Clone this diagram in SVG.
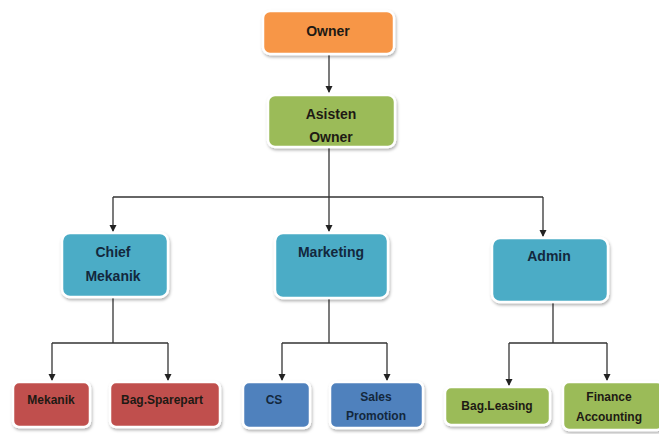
<svg xmlns="http://www.w3.org/2000/svg" width="659" height="434" viewBox="0 0 659 434">
<defs>
<filter id="sh" x="-10%" y="-10%" width="130%" height="140%">
<feDropShadow dx="1" dy="2" stdDeviation="1.5" flood-color="#000" flood-opacity="0.3"/>
</filter>
<marker id="ar" markerWidth="8" markerHeight="8" refX="6" refY="4" orient="auto" markerUnits="userSpaceOnUse">
<path d="M0,0.5 L7,4 L0,7.5 Z" fill="#222"/>
</marker>
</defs>
<style>
.box{stroke:#fff;stroke-width:2.5;filter:url(#sh)}
.or{fill:#f79646}
.gr{fill:#9bbb59}
.cy{fill:#4bacc6}
.rd{fill:#c0504d}
.bl{fill:#4f81bd}
text{font-family:"Liberation Sans",Arial,sans-serif;font-weight:bold;font-size:14px;text-anchor:middle;fill:#1e1a14}
.nv{fill:#13283d}
.sm{font-size:12px}
.con line,.con path{stroke:#333;stroke-width:1.3;fill:none}
</style>
<rect width="659" height="434" fill="#fff"/>
<g class="con">
<line x1="329" y1="55" x2="329" y2="92" marker-end="url(#ar)"/>
<line x1="329" y1="148" x2="329" y2="197"/>
<line x1="113" y1="197" x2="543" y2="197"/>
<line x1="113" y1="197" x2="113" y2="231" marker-end="url(#ar)"/>
<line x1="329" y1="197" x2="329" y2="231" marker-end="url(#ar)"/>
<line x1="543" y1="197" x2="543" y2="236" marker-end="url(#ar)"/>
<line x1="113" y1="298" x2="113" y2="343"/>
<line x1="52" y1="343" x2="168" y2="343"/>
<line x1="329" y1="299" x2="329" y2="343"/>
<line x1="282" y1="343" x2="387" y2="343"/>
<line x1="553" y1="303" x2="553" y2="343"/>
<line x1="509" y1="343" x2="607" y2="343"/>
<line x1="52" y1="343" x2="52" y2="380" marker-end="url(#ar)"/>
<line x1="168" y1="343" x2="168" y2="380" marker-end="url(#ar)"/>
<line x1="282" y1="343" x2="282" y2="380" marker-end="url(#ar)"/>
<line x1="387" y1="343" x2="387" y2="380" marker-end="url(#ar)"/>
<line x1="509" y1="343" x2="509" y2="385" marker-end="url(#ar)"/>
<line x1="607" y1="343" x2="607" y2="380" marker-end="url(#ar)"/>
</g>
<g id="owner"><rect class="box or" x="263" y="11" width="131" height="43" rx="7"/><text x="328" y="36" font-size="15">Owner</text></g>
<g id="asisten"><rect class="box gr" x="268" y="95" width="127" height="52" rx="7"/><text x="331" y="119">Asisten</text><text x="331" y="142">Owner</text></g>
<g id="chief"><rect class="box cy" x="62" y="233" width="106" height="64" rx="8"/><text class="nv" x="113" y="257">Chief</text><text class="nv" x="113" y="281">Mekanik</text></g>
<g id="marketing"><rect class="box cy" x="275" y="233" width="113" height="65" rx="8"/><text class="nv" x="331" y="257">Marketing</text></g>
<g id="admin"><rect class="box cy" x="492" y="238" width="116" height="64" rx="8"/><text class="nv" x="549" y="261">Admin</text></g>
<g id="mekanik"><rect class="box rd" x="13" y="382" width="77" height="45" rx="6"/><text class="sm" x="51" y="404">Mekanik</text></g>
<g id="sparepart"><rect class="box rd" x="110" y="382" width="110" height="45" rx="6"/><text class="sm" x="162" y="404">Bag.Sparepart</text></g>
<g id="cs"><rect class="box bl" x="243" y="382" width="67" height="46" rx="6"/><text class="nv sm" x="274" y="404">CS</text></g>
<g id="sales"><rect class="box bl" x="330" y="382" width="93" height="46" rx="6"/><text class="nv sm" x="376" y="401">Sales</text><text class="nv sm" x="376" y="420">Promotion</text></g>
<g id="leasing"><rect class="box gr" x="445" y="387" width="105" height="38" rx="6"/><text class="sm" x="497" y="410">Bag.Leasing</text></g>
<g id="finance"><rect class="box gr" x="563" y="382" width="100" height="48" rx="6"/><text class="sm" x="609" y="401">Finance</text><text class="sm" x="609" y="421">Accounting</text></g>
</svg>
